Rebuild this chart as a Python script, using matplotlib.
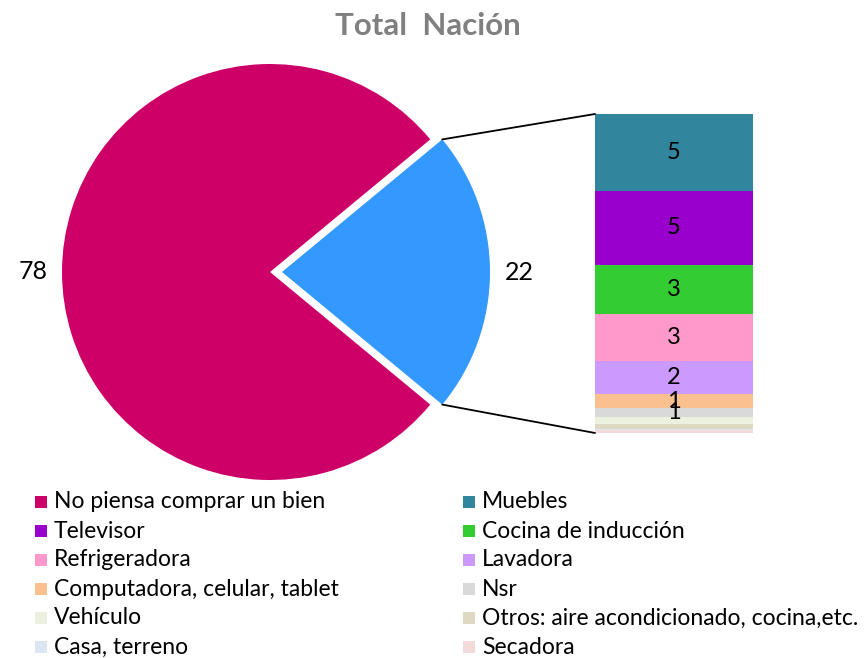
import matplotlib
matplotlib.use("Agg")
import matplotlib.pyplot as plt
from matplotlib.patches import Rectangle, ConnectionPatch
import numpy as np

plt.rcParams['font.family'] = ['Lato', 'DejaVu Sans']

title = "Total  Nación"
pie_labels = ["No piensa comprar un bien", "Otros bienes"]
pie_values = [78, 22]
pie_colors = ["#CC0066", "#3399FF"]

bar_labels = ["Muebles", "Televisor", "Cocina de inducción", "Refrigeradora", "Lavadora",
              "Computadora, celular, tablet", "Nsr", "Vehículo",
              "Otros: aire acondicionado, cocina,etc.", "Casa, terreno", "Secadora"]
bar_values = [5.3, 5.1, 3.4, 3.2, 2.3, 1.0, 0.6, 0.5, 0.3, 0.1, 0.2]
bar_colors = ["#31859C", "#9900CC", "#33CC33", "#FF99CC", "#CC99FF", "#FAC090",
              "#D9D9D9", "#EBF1DE", "#DDD9C3", "#DCE6F2", "#F2DCDB"]
bar_text = ["5", "5", "3", "3", "2", "1", "1", "", "", "", ""]

legend_order = ["No piensa comprar un bien", "Muebles", "Televisor", "Cocina de inducción",
                "Refrigeradora", "Lavadora", "Computadora, celular, tablet", "Nsr",
                "Vehículo", "Otros: aire acondicionado, cocina,etc.", "Casa, terreno", "Secadora"]

W, H = 866, 658
fig = plt.figure(figsize=(W / 100, H / 100), dpi=100)
ax = fig.add_axes([0, 0, 1, 1])

R = 208
wedges, texts = ax.pie(pie_values, colors=pie_colors, startangle=39.6, radius=R,
                       center=(270, 272), explode=[0, 12],
                       labels=[str(v) for v in pie_values], labeldistance=1.14,
                       textprops=dict(fontsize=18, color="black"), frame=True)
for t in texts:
    t.set_ha("center")
    t.set_va("center")
ax.set_xlim(0, W)
ax.set_ylim(H, 0)
ax.set_aspect("equal")
ax.axis("off")

fig.text(0.494, 1 - 26 / H, title, ha="center", va="center", fontsize=22.5,
         fontweight="bold", color="#808080")

# bar of pie
bx0, bx1, by0, by1 = 595, 753, 114, 433
ax2 = fig.add_axes([bx0 / W, 1 - by1 / H, (bx1 - bx0) / W, (by1 - by0) / H])
total = sum(bar_values)
bottoms = np.concatenate([[0], np.cumsum(bar_values)[:-1]])
ax2.bar(0, bar_values, bottom=bottoms, width=1, color=bar_colors, linewidth=0)
for b, v, t in zip(bottoms, bar_values, bar_text):
    if t:
        ax2.text(0, b + v / 2, t, ha="center", va="center", fontsize=17, color="black")
ax2.set_xlim(-0.5, 0.5)
ax2.set_ylim(total, 0)
ax2.axis("off")

# connector lines
w = wedges[1]
cx, cy = w.center
for ang, yb in [(w.theta1, 0), (w.theta2, total)]:
    px = cx + w.r * np.cos(np.radians(ang))
    py = cy + w.r * np.sin(np.radians(ang))
    con = ConnectionPatch(xyA=(px, py), coordsA=ax.transData, xyB=(-0.5, yb),
                          coordsB=ax2.transData, color="black", lw=1.3)
    fig.add_artist(con)

# legend
color_map = dict(zip(pie_labels, pie_colors))
color_map.update(dict(zip(bar_labels, bar_colors)))
col_x = [35, 463]
row_y0, row_dy = 502, 29
for i, lab in enumerate(legend_order):
    r, c = divmod(i, 2)
    x = col_x[c]
    y = row_y0 + r * row_dy
    ax.add_patch(Rectangle((x, y - 6), 12, 12, color=color_map[lab], lw=0))
    ax.text(x + 19, y, lab, ha="left", va="center", fontsize=16.5, color="black")

fig.savefig("out.png", dpi=100)
